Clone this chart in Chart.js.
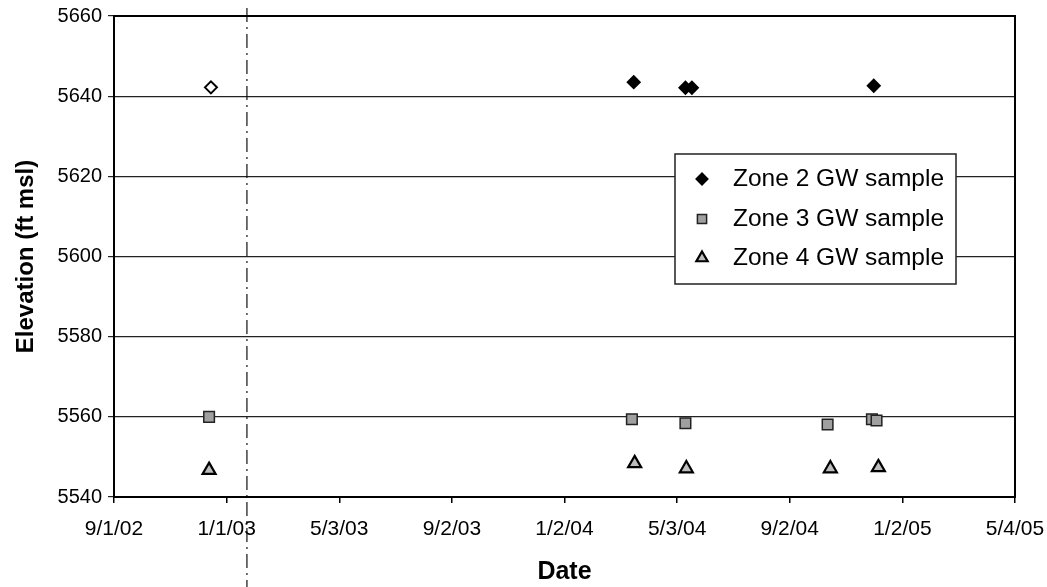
<!DOCTYPE html>
<html><head><meta charset="utf-8">
<script src="https://cdn.jsdelivr.net/npm/chart.js@4"></script>
<style>html,body{margin:0;padding:0;background:#fff}#wrap{width:1047px;height:587px;position:relative}</style>
</head><body><div id="wrap"><canvas id="c"></canvas></div>
<script>
// ---- data ----
const seriesNames = ['Zone 2 GW sample', 'Zone 3 GW sample', 'Zone 4 GW sample'];
const zone2Dates = ['12/15/02', '3/17/04', '5/12/04', '5/19/04', '12/2/04'];
const zone2Elev  = [5642.2, 5643.5, 5642.1, 5642.1, 5642.6];
const zone3Dates = ['12/13/02', '3/15/04', '5/12/04', '10/13/04', '11/30/04', '12/5/04'];
const zone3Elev  = [5560.0, 5559.4, 5558.4, 5558.1, 5559.4, 5559.1];
const zone4Dates = ['12/13/02', '3/18/04', '5/13/04', '10/16/04', '12/7/04'];
const zone4Elev  = [5546.7, 5548.4, 5547.1, 5547.1, 5547.4];
const xTickDates = ['9/1/02', '1/1/03', '5/3/03', '9/2/03', '1/2/04', '5/3/04', '9/2/04', '1/2/05', '5/4/05'];
const yTicks = [5540, 5560, 5580, 5600, 5620, 5640, 5660];
const markerDate = '1/23/03';

function dayNum(s) {
  const [m, d, y] = s.split('/').map(Number);
  return Date.UTC(2000 + y, m - 1, d) / 86400000;
}
function pts(dates, vals) { return dates.map((d, i) => ({ x: dayNum(d), y: vals[i] })); }

const FONT = "'Liberation Sans', Arial, sans-serif";

const datasets = [
  { label: seriesNames[0], data: pts(zone2Dates, zone2Elev), pointStyle: 'rectRot', pointRadius: 6, pointHoverRadius: 6,
    pointBackgroundColor: c => c.dataIndex === 0 ? '#ffffff' : '#000000', pointBorderColor: '#000', pointBorderWidth: 2,
    legendFill: '#000', showLine: false },
  { label: seriesNames[1], data: pts(zone3Dates, zone3Elev), pointStyle: 'rect', pointRadius: 7.5, pointHoverRadius: 7.5,
    pointBackgroundColor: '#a0a0a0', pointBorderColor: '#222', pointBorderWidth: 1.5, legendFill: '#a0a0a0', showLine: false },
  { label: seriesNames[2], data: pts(zone4Dates, zone4Elev), pointStyle: 'triangle', pointRadius: 7.5, pointHoverRadius: 7.5,
    pointBackgroundColor: '#bdbdbd', pointBorderColor: '#000', pointBorderWidth: 2.2, legendFill: '#bdbdbd', showLine: false }
];

function manualPoint(ctx, style, r, x, y) {
  ctx.beginPath();
  if (style === 'rectRot') { ctx.moveTo(x - r, y); ctx.lineTo(x, y - r); ctx.lineTo(x + r, y); ctx.lineTo(x, y + r); ctx.closePath(); }
  else if (style === 'rect') { const s = r * Math.SQRT1_2; ctx.rect(x - s, y - s, 2 * s, 2 * s); }
  else { ctx.moveTo(x, y - r); ctx.lineTo(x + r * Math.sin(2.0944), y - r * Math.cos(2.0944)); ctx.lineTo(x + r * Math.sin(4.1888), y - r * Math.cos(4.1888)); ctx.closePath(); }
  ctx.fill(); ctx.stroke();
}

const decor = {
  id: 'decor',
  beforeDatasetsDraw(chart) {
    const ctx = chart.ctx, xs = chart.scales.x;
    const px = xs.getPixelForValue(dayNum(markerDate));
    ctx.save();
    ctx.strokeStyle = '#111'; ctx.lineWidth = 1.2; ctx.setLineDash([14, 5, 2, 5]);
    ctx.beginPath(); ctx.moveTo(px, 8); ctx.lineTo(px, chart.height); ctx.stroke();
    ctx.restore();
    const a = chart.chartArea;
    ctx.save(); ctx.strokeStyle = '#000'; ctx.lineWidth = 2;
    ctx.strokeRect(a.left, a.top, a.right - a.left, a.bottom - a.top);
    ctx.restore();
  },
  afterDraw(chart) {
    const ctx = chart.ctx;
    const bx = 675, by = 154, bw = 281, bh = 130;
    ctx.save();
    ctx.fillStyle = '#fff'; ctx.fillRect(bx, by, bw, bh);
    ctx.strokeStyle = '#222'; ctx.lineWidth = 1.5; ctx.strokeRect(bx, by, bw, bh);
    const rows = [179, 219, 258];
    chart.data.datasets.forEach((ds, i) => {
      const y = rows[i];
      ctx.fillStyle = ds.legendFill; ctx.strokeStyle = ds.pointBorderColor; ctx.lineWidth = ds.pointBorderWidth;
      const r = ds.pointStyle === 'rectRot' ? 5.5 : 6.5;
      if (Chart.helpers && Chart.helpers.drawPoint) {
        Chart.helpers.drawPoint(ctx, { pointStyle: ds.pointStyle, radius: r, borderWidth: ds.pointBorderWidth, rotation: 0 }, 702, y);
      } else manualPoint(ctx, ds.pointStyle, r, 702, y);
      ctx.fillStyle = '#000'; ctx.font = '24.5px ' + FONT; ctx.textBaseline = 'middle'; ctx.textAlign = 'left';
      ctx.fillText(ds.label, 733, y);
    });
    ctx.restore();
  }
};

new Chart(document.getElementById('c'), {
  type: 'scatter',
  data: { datasets },
  plugins: [decor],
  options: {
    responsive: true, maintainAspectRatio: false, animation: false,
    layout: { padding: { top: 16, right: 32, left: 0, bottom: 0 } },
    plugins: { legend: { display: false }, tooltip: { enabled: false } },
    scales: {
      x: {
        type: 'linear', min: dayNum(xTickDates[0]), max: dayNum(xTickDates[xTickDates.length - 1]),
        afterBuildTicks: s => { s.ticks = xTickDates.map(d => ({ value: dayNum(d) })); },
        afterFit: s => { s.height = 90; s.paddingLeft = 0; s.paddingRight = 0; },
        grid: { drawOnChartArea: false, drawTicks: true, tickLength: 6, color: '#000', lineWidth: 1.5 },
        border: { display: true, color: '#000', width: 2 },
        ticks: { autoSkip: false, maxRotation: 0, padding: 14, color: '#000', font: { family: FONT, size: 21 },
          callback: v => { const i = xTickDates.findIndex(d => dayNum(d) === v); return i >= 0 ? xTickDates[i] : ''; } },
        title: { display: true, text: 'Date', color: '#000', font: { family: FONT, size: 25, weight: 'bold' }, padding: { top: 0, bottom: 0 } }
      },
      y: {
        min: yTicks[0], max: yTicks[yTicks.length - 1],
        afterBuildTicks: s => { s.ticks = yTicks.map(v => ({ value: v })); },
        afterFit: s => { s.width = 114; s.paddingTop = 0; s.paddingBottom = 0; },
        grid: { color: '#222', lineWidth: 1.2, drawTicks: true, tickLength: 6 },
        border: { display: true, color: '#000', width: 2 },
        ticks: { padding: 6, color: '#000', font: { family: FONT, size: 20 }, callback: v => String(v) },
        title: { display: true, text: 'Elevation (ft msl)', color: '#000', font: { family: FONT, size: 24, weight: 'bold' }, padding: { top: 12, bottom: 0 } }
      }
    }
  }
});
</script>
</body></html>
